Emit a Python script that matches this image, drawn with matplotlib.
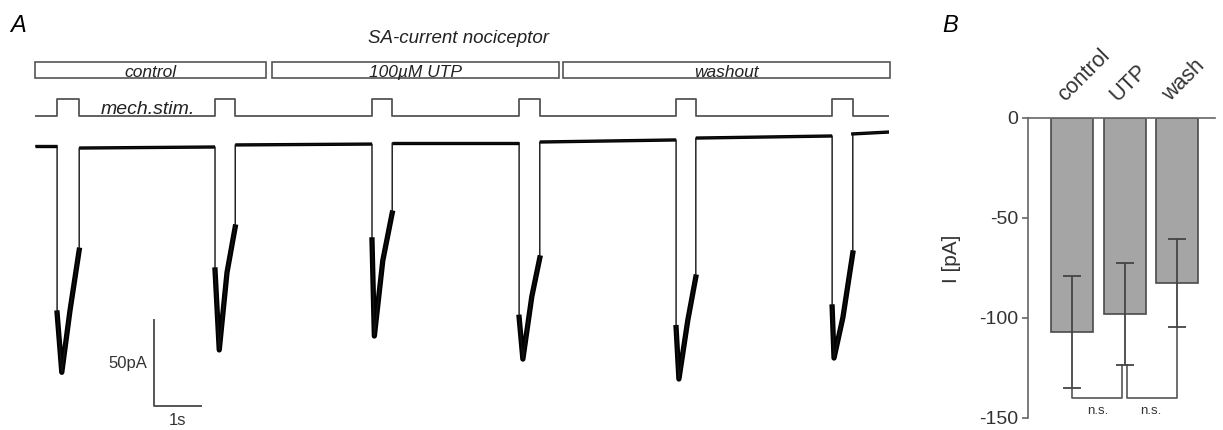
import matplotlib
matplotlib.use("Agg")
import matplotlib.pyplot as plt
from matplotlib.patches import Rectangle

plt.rcParams['font.family'] = ['Liberation Sans', 'DejaVu Sans']
plt.rcParams['axes.unicode_minus'] = False

# ---- Panel A: SA-current recording (time in s, current in pA) ----
stim_on = [0.47, 3.83, 7.17, 10.30, 13.64, 16.96]
stim_off = [0.94, 4.26, 7.60, 10.74, 14.06, 17.40]
trace_end = 18.17

peak_t = [0.57, 3.92, 7.22, 10.38, 13.70, 17.00]
peak_I = [-131.0, -118.0, -109.9, -123.3, -134.9, -122.7]
noisy_start_I = [-96.5, -71.5, -54.0, -99.0, -105.0, -93.0]
mid_t = [0.745, 4.085, 7.40, 10.57, 13.89, 17.19]
mid_I = [-95.0, -73.0, -66.0, -87.0, -100.6, -99.0]
ramp_end_I = [-60.0, -46.5, -38.4, -64.5, -75.6, -61.6]

# baseline holding current between stimuli (start / end of each stretch)
base_start = [0.6, -0.6, 1.2, 2.3, 2.9, 5.2, 7.6]
base_end = [0.6, 0.0, 1.7, 2.3, 4.1, 6.4, 8.7]

conditions = ['control', '100µM UTP', 'washout']
cond_start = [0.0, 5.04, 11.23]
cond_end = [4.91, 11.15, 18.19]

scale_t = 1.0     # s
scale_I = 50.0    # pA
scale_origin = (2.53, -150.6)

# ---- Panel B: mean peak current ----
groups = ['control', 'UTP', 'wash']
mean_I = [-107.0, -98.0, -82.5]
sem_I = [28.0, 25.5, 22.0]
comparisons = [(0, 1, 'n.s.'), (1, 2, 'n.s.')]
bracket_level = -140.0

# ---------------------------------------------------------------
W, H = 1223, 430
fig = plt.figure(figsize=(W / 100, H / 100), dpi=100)


def px_axes(x0, y0, x1, y1):
    # pixel box (top-left origin) -> figure axes
    return fig.add_axes([x0 / W, 1 - y1 / H, (x1 - x0) / W, (y1 - y0) / H])


# trace
axA = px_axes(35, 125, 889, 430)
axA.set_xlim(0, trace_end)
axA.set_ylim((147 - 430) / 1.72, (147 - 125) / 1.72)
axA.axis('off')

t, I = [0.0], [base_start[0]]
for k in range(len(stim_on)):
    axA.plot([t[-1], stim_on[k]], [base_start[k], base_end[k]],
             color='k', lw=2.4, solid_capstyle='butt')
    nt = [stim_on[k], peak_t[k], mid_t[k], stim_off[k]]
    nI = [noisy_start_I[k], peak_I[k], mid_I[k], ramp_end_I[k]]
    axA.plot(nt, nI, color='k', lw=3.8, solid_joinstyle='round')
    t += [stim_on[k], stim_on[k], peak_t[k], mid_t[k], stim_off[k], stim_off[k]]
    I += [base_end[k], noisy_start_I[k], peak_I[k], mid_I[k], ramp_end_I[k],
          base_start[k + 1]]
axA.plot([t[-1], trace_end], [base_start[-1], base_end[-1]], color='k', lw=2.4)
t.append(trace_end)
I.append(base_end[-1])
axA.plot(t, I, color='#111111', lw=1.0)

# scale bar
sx, sy = scale_origin
axA.plot([sx, sx, sx + scale_t], [sy + scale_I, sy, sy], color='#555555', lw=1.4)
axA.text(sx - 0.15, sy + scale_I / 2, '50pA', ha='right', va='center',
         fontsize=12, color='#333333')
axA.text(sx + scale_t / 2, sy - 4, '1s', ha='center', va='top',
         fontsize=12, color='#333333')

# stimulus
axS = px_axes(35, 95, 889, 120)
axS.set_xlim(0, trace_end)
axS.set_ylim(-0.235, 1.235)
axS.axis('off')
st, sl = [0.0], [0]
for on, off in zip(stim_on, stim_off):
    st += [on, on, off, off]
    sl += [0, 1, 1, 0]
st.append(trace_end)
sl.append(0)
axS.plot(st, sl, color='#555555', lw=1.3)
axS.text(2.40, 0.1, 'mech.stim.', ha='center', va='baseline',
         fontsize=14, style='italic', color='#222222')

# condition boxes
axC = px_axes(35, 55, 889, 85)
axC.set_xlim(0, trace_end)
axC.set_ylim(-0.4375, 1.4375)
axC.axis('off')
for name, a, b in zip(conditions, cond_start, cond_end):
    axC.add_patch(Rectangle((a, 0), b - a, 1, fill=False,
                            edgecolor='#555555', lw=1.2, clip_on=False))
    axC.text((a + b) / 2, 0.08, name, ha='center', va='baseline',
             fontsize=12.5, style='italic', color='#222222')

fig.text(458 / W, 1 - 43 / H, 'SA-current nociceptor', ha='center',
         va='baseline', fontsize=13.5, style='italic', color='#222222')
fig.text(10 / W, 1 - 32 / H, 'A', ha='left', va='baseline',
         fontsize=17, style='italic')
fig.text(942 / W, 1 - 32 / H, 'B', ha='left', va='baseline',
         fontsize=17, style='italic')

# ---- Panel B ----
axB = px_axes(1028, 118, 1215, 418)
xs = list(range(len(groups)))
axB.bar(xs, mean_I, width=0.8, color='#a5a5a5', edgecolor='#4a4a4a',
        linewidth=1.2, zorder=2)
axB.errorbar(xs, mean_I, yerr=sem_I, fmt='none', ecolor='#444444',
             elinewidth=1.3, capsize=6.5, capthick=1.3, zorder=3)

for (i, j, lab), dl, dr in zip(comparisons, [0.0, 0.04], [-0.04, 0.0]):
    xl, xr = i + dl, j + dr
    yl = mean_I[i] - sem_I[i]
    yr = mean_I[j] - sem_I[j]
    axB.plot([xl, xl, xr, xr], [yl, bracket_level, bracket_level, yr],
             color='#555555', lw=1.2, clip_on=False)
    axB.text((i + j) / 2, bracket_level - 3.5, lab, ha='center', va='top',
             fontsize=9.5, color='#333333')

axB.set_xlim(-(1072 - 1028) / 52.5, 2 + (1215 - 1177) / 52.5)
axB.set_ylim(-150, 0)
axB.set_yticks([0, -50, -100, -150])
axB.set_xticks([])
for side in ['right', 'bottom']:
    axB.spines[side].set_visible(False)
for side in ['left', 'top']:
    axB.spines[side].set_color('#666666')
    axB.spines[side].set_linewidth(1.2)
axB.tick_params(axis='y', direction='out', length=4, width=1.2,
                color='#666666', labelsize=14, labelcolor='#333333', pad=3)
axB.set_ylabel('I [pA]', fontsize=15, color='#333333')
axB.yaxis.set_label_coords(-0.36, 0.53)
axB.patch.set_alpha(0)

for i, g in enumerate(groups):
    axB.text(i - 0.07, 1.04, g, transform=axB.get_xaxis_transform(),
             rotation=45, rotation_mode='anchor', ha='left', va='bottom',
             fontsize=15.5, color='#333333')

fig.savefig('out.png', dpi=100)
